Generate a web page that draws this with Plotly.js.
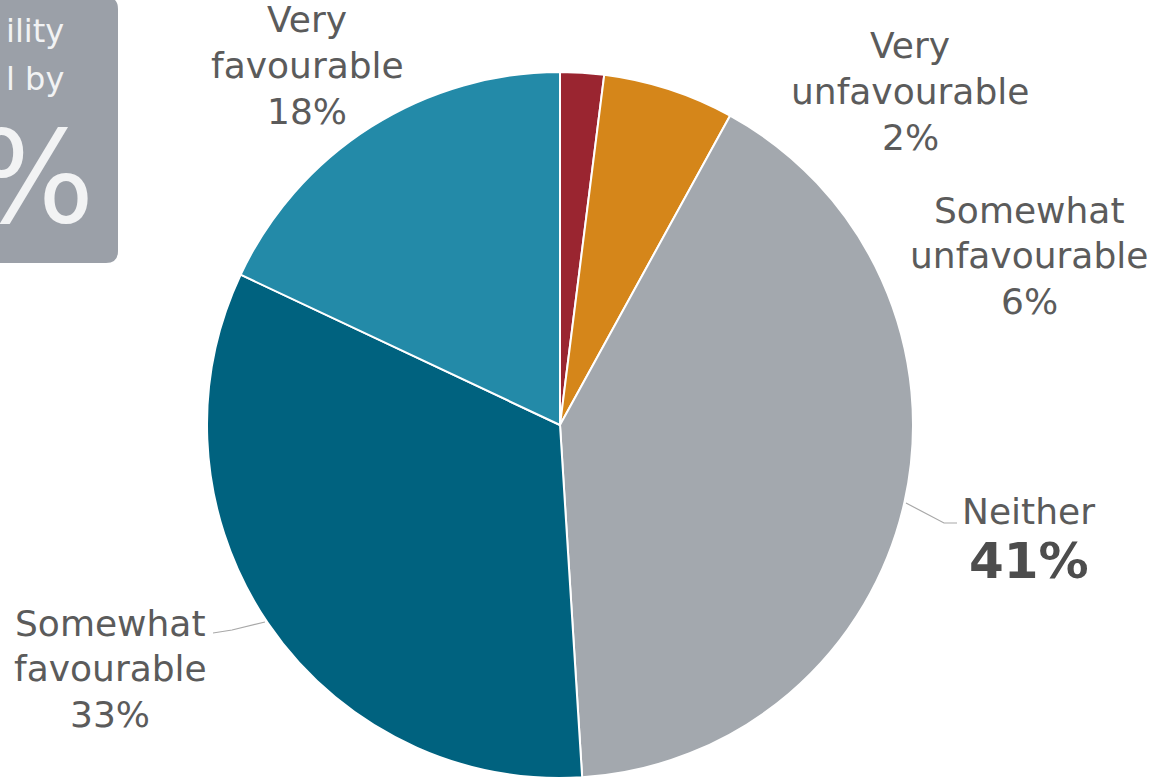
<!DOCTYPE html>
<html>
<head>
<meta charset="utf-8">
<script src="https://cdn.plot.ly/plotly-3.0.1.min.js"></script>
<style>html,body{margin:0;padding:0;background:#fff;}#chart{width:1154px;height:779px;}</style>
</head>
<body>
<div id="chart"></div>
<script>
const categories = ["Very unfavourable", "Somewhat unfavourable", "Neither", "Somewhat favourable", "Very favourable"];
const shares = [2, 6, 41, 33, 18];
const sliceColors = ["#9a2530", "#d5861a", "#a3a8ae", "#00627f", "#238aa8"];
const labelLines = [["Very", "unfavourable"], ["Somewhat", "unfavourable"], ["Neither"], ["Somewhat", "favourable"], ["Very", "favourable"]];
const boxTexts = ["ility", "l by", "%"];

const W = 1154, H = 779;
const px = x => x / W;
const py = y => 1 - y / H;

const trace = {
  type: "pie",
  values: shares,
  labels: categories,
  sort: false,
  direction: "clockwise",
  rotation: 0,
  textinfo: "none",
  hoverinfo: "label+percent",
  marker: {colors: sliceColors, line: {color: "#ffffff", width: 2}},
  domain: {x: [px(207), px(913)], y: [py(778), py(72)]}
};

const txtColor = "#5b5b5b";
const fontFam = "DejaVu Sans, Verdana, sans-serif";
// [center x, first baseline y] for each label block (pixels)
const labelPos = [[910, 58], [1029, 222], [1028, 523], [110, 635], [307, 32]];
const lineGap = 45.5;
const annotations = [];
categories.forEach((c, i) => {
  const lines = labelLines[i].slice();
  if (i !== 2) lines.push(shares[i] + "%");
  lines.forEach((t, k) => {
    annotations.push({
      xref: "paper", yref: "paper", x: px(labelPos[i][0]), y: py(labelPos[i][1] + k * lineGap - 12),
      xanchor: "center", yanchor: "middle", showarrow: false, align: "center",
      text: t, font: {family: fontFam, size: 36, color: txtColor}
    });
  });
});
annotations.push({
  xref: "paper", yref: "paper", x: px(1029), y: py(578 - 17),
  xanchor: "center", yanchor: "middle", showarrow: false,
  text: "<b>" + shares[2] + "%</b>", font: {family: fontFam, size: 50, color: "#4d4d4d"}
});
// partial box texts (cut by left edge)
const boxPos = [[66, 31, 32], [66, 79, 32], [97, 178, 128]];
boxTexts.forEach((t, i) => {
  annotations.push({
    xref: "paper", yref: "paper", x: px(boxPos[i][0]), y: py(boxPos[i][1]),
    xanchor: "right", yanchor: "middle", showarrow: false,
    text: t, font: {family: fontFam, size: boxPos[i][2], color: "#f2f3f4"}
  });
});

const r = 12;
const boxPath = `M ${px(-20)},${py(-20)} L ${px(118 - r)},${py(-20)} L ${px(118 - r)},${py(-3)} Q ${px(118)},${py(-3)} ${px(118)},${py(-3 + r)} L ${px(118)},${py(263 - r)} Q ${px(118)},${py(263)} ${px(118 - r)},${py(263)} L ${px(-20)},${py(263)} Z`;

const shapes = [
  {type: "path", xref: "paper", yref: "paper", path: boxPath, fillcolor: "#9ba0a8", line: {width: 0}, layer: "below"},
  {type: "path", xref: "paper", yref: "paper",
   path: `M ${px(906)},${py(503)} L ${px(944)},${py(523)} L ${px(957)},${py(523)}`,
   line: {color: "#a8a8a8", width: 1.2}},
  {type: "path", xref: "paper", yref: "paper",
   path: `M ${px(213)},${py(633)} L ${px(232)},${py(630)} L ${px(265)},${py(622)}`,
   line: {color: "#a8a8a8", width: 1.2}}
];

const layout = {
  width: W, height: H,
  margin: {l: 0, r: 0, t: 0, b: 0},
  paper_bgcolor: "#ffffff",
  showlegend: false,
  annotations: annotations,
  shapes: shapes
};

Plotly.newPlot("chart", [trace], layout, {displayModeBar: false, staticPlot: true});
</script>
</body>
</html>
